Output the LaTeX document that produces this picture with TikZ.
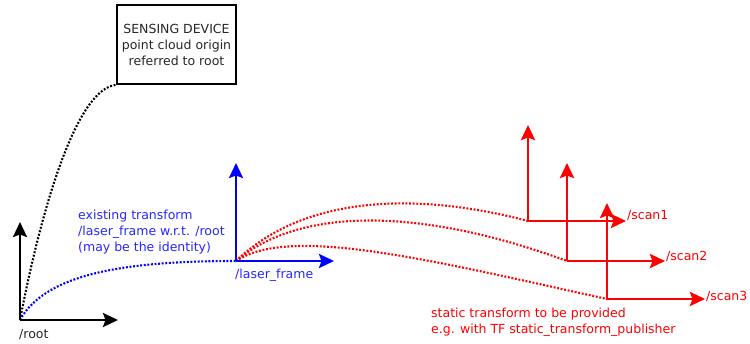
\documentclass[tikz,border=0pt]{standalone}
\usepackage{fontspec}
\setmainfont{DejaVu Sans}
\usetikzlibrary{arrows.meta}
\definecolor{myblue}{RGB}{0,0,255}
\definecolor{myred}{RGB}{255,0,0}
\tikzset{
  axis/.style={line width=2.5pt,-{Stealth[length=15pt,width=14pt,inset=2.5pt]}},
  raxis/.style={line width=2.8pt,-{Stealth[length=15pt,width=14pt,inset=2.5pt]}},
  dots/.style={line width=2.1pt,dash pattern=on 1.9pt off 1.7pt},
  lbl/.style={font=\fontsize{12.5}{16}\selectfont,inner sep=0pt},
}
\begin{document}
\begin{tikzpicture}[x=1pt,y=-1pt]
\useasboundingbox (0,0) rectangle (750,343);
% origins
\coordinate (R) at (20,320);
\coordinate (Rx) at (118,320);
\coordinate (Ry) at (20,222);
\coordinate (L) at (236,261);
\coordinate (Lx) at (334,261);
\coordinate (Ly) at (236,163);
\coordinate (S1) at (528,221);
\coordinate (S1x) at (626,221);
\coordinate (S1y) at (528,125);
\coordinate (S2) at (567,261);
\coordinate (S2x) at (665,261);
\coordinate (S2y) at (567,163);
\coordinate (S3) at (607,299);
\coordinate (S3x) at (705,299);
\coordinate (S3y) at (607,203);
% sensing device box
\node[draw,line width=1.8pt,minimum width=119pt,minimum height=79pt,inner sep=0pt,align=center,font=\fontsize{12.5}{16}\selectfont,text=black!85] (box) at (176.5,44.5) {SENSING DEVICE\\point cloud origin\\referred to root};
% curves
\draw[dots,black] (R) .. controls (45,190) and (80,88) .. (box.south west);
\draw[dots,myblue] (R) .. controls (45,275) and (120,261) .. (L);
\draw[dots,myred] (L) .. controls (310,190) and (430,195) .. (S1);
\draw[dots,myred] (L) .. controls (300,207) and (420,207) .. (S2);
\draw[dots,myred] (L) .. controls (290,225) and (430,260) .. (S3);
% axes
\draw[axis,black] (R) -- (Rx);
\draw[axis,black] (R) -- (Ry);
\draw[axis,myblue] (L) -- (Lx);
\draw[axis,myblue] (L) -- (Ly);
\draw[raxis,myred] (S1) -- (S1x);
\draw[raxis,myred] (S1) -- (S1y);
\draw[raxis,myred] (S2) -- (S2x);
\draw[raxis,myred] (S2) -- (S2y);
\draw[raxis,myred] (S3) -- (S3x);
\draw[raxis,myred] (S3) -- (S3y);
% labels
\node[lbl,anchor=west,text=black!85] (lroot) at (19,335) {/root};
\node[lbl,anchor=west,text=myblue!85] (llaser) at (235,275) {/laser\_frame};
\node[lbl,anchor=west,align=left,text=myblue!85] (lexist) at (78,232) {existing transform\\/laser\_frame w.r.t. /root\\(may be the identity)};
\node[lbl,anchor=west,text=myred] (ls1) at (627,216) {/scan1};
\node[lbl,anchor=west,text=myred] (ls2) at (666,256) {/scan2};
\node[lbl,anchor=west,text=myred] (ls3) at (706,296) {/scan3};
\node[lbl,anchor=west,align=left,text=myred] (lstatic) at (431,322) {static transform to be provided\\e.g. with TF static\_transform\_publisher};
\end{tikzpicture}
\end{document}
